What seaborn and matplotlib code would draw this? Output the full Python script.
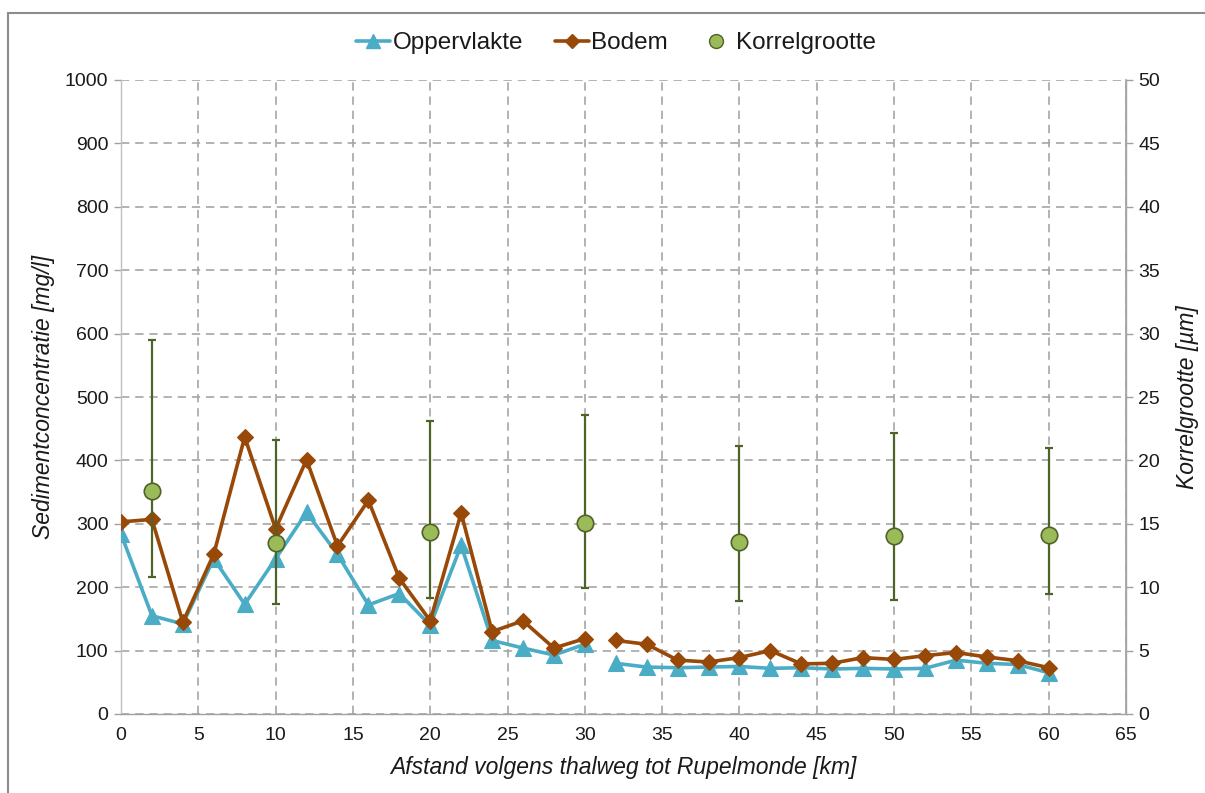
import numpy as np
import pandas as pd
import matplotlib
matplotlib.use("Agg")
import matplotlib.pyplot as plt
from matplotlib.lines import Line2D
from matplotlib.patches import Rectangle
import seaborn as sns

# ---- data ----
km = [0, 2, 4, 6, 8, 10, 12, 14, 16, 18, 20, 22, 24, 26, 28, 30,
      32, 34, 36, 38, 40, 42, 44, 46, 48, 50, 52, 54, 56, 58, 60]
oppervlakte = [284, 155, 142, 245, 173, 245, 318, 252, 172, 190, 140, 266, 116, 104, 93, 110,
               80, 74, 73, 74, 75, 72, 73, 71, 72, 71, 72, 85, 80, 78, 65]
bodem = [303, 307, 145, 252, 437, 292, 401, 265, 337, 214, 147, 317, 130, 147, 104, 119,
         116, 110, 85, 82, 89, 100, 79, 80, 89, 86, 92, 97, 90, 84, 73]
segment = [1] * 16 + [2] * 15

korrel_km = [2, 10, 20, 30, 40, 50, 60]
korrel = [17.6, 13.5, 14.35, 15.1, 13.6, 14.0, 14.1]
korrel_max = [29.5, 21.6, 23.1, 23.6, 21.1, 22.2, 21.0]
korrel_min = [10.8, 8.7, 9.15, 9.9, 8.9, 9.0, 9.45]

xticks = list(range(0, 66, 5))
yticks_left = list(range(0, 1001, 100))
yticks_right = list(range(0, 51, 5))

# ---- style ----
sns.set_theme(style="white")
plt.rcParams["font.family"] = ["Liberation Sans", "DejaVu Sans"]

c_opp = "#4BACC6"
c_bod = "#984807"
c_kor = "#9BBB59"
c_kor_edge = "#4F6228"
grid_c = "#A6A6A6"
txt_c = "#1a1a1a"

df = pd.DataFrame({
    "km": km * 2,
    "value": oppervlakte + bodem,
    "series": ["Oppervlakte"] * len(km) + ["Bodem"] * len(km),
    "segment": segment * 2,
})
dk = pd.DataFrame({"km": korrel_km, "korrel": korrel})

fig = plt.figure(figsize=(12.05, 7.93), dpi=100)
ax = fig.add_axes([121 / 1205, 1 - 714 / 793, (1126 - 121) / 1205, (714 - 80) / 793])

sns.lineplot(data=df, x="km", y="value", hue="series", style="series",
             units="segment", estimator=None,
             palette={"Oppervlakte": c_opp, "Bodem": c_bod},
             markers={"Oppervlakte": "^", "Bodem": "D"}, dashes=False,
             markersize=10, linewidth=2.6,
             legend=False, ax=ax, zorder=3)
for ln in ax.lines:
    col = ln.get_color()
    ln.set_markeredgecolor(col)
    ln.set_markerfacecolor(col)
    ln.set_markeredgewidth(0.8)
    if ln.get_marker() == "^":
        ln.set_markersize(11)
    else:
        ln.set_markersize(8)

ax.set_xlim(0, 65)
ax.set_ylim(0, 1000)
ax.set_xticks(xticks)
ax.set_yticks(yticks_left)
ax.grid(True, color=grid_c, linestyle=(0, (5, 3.5)), linewidth=1.2)
ax.set_axisbelow(True)
ax.spines["top"].set_visible(False)
ax.spines["left"].set_color("#BFBFBF")
ax.spines["bottom"].set_color("#A0A0A0")
ax.spines["right"].set_color("#A6A6A6")
for s in ["left", "bottom", "right"]:
    ax.spines[s].set_linewidth(1.0)
ax.tick_params(axis="both", which="major", direction="out", length=5, width=1,
               color="#A0A0A0", labelsize=14, labelcolor=txt_c, pad=4)
ax.set_xlabel("Afstand volgens thalweg tot Rupelmonde [km]", fontsize=16.5, style="italic",
              color=txt_c, labelpad=9)
ax.set_ylabel("Sedimentconcentratie [mg/l]", fontsize=16.5, style="italic",
              color=txt_c, labelpad=7)

ax2 = ax.twinx()
yerr = np.array([np.array(korrel) - np.array(korrel_min), np.array(korrel_max) - np.array(korrel)])
ax2.errorbar(korrel_km, korrel, yerr=yerr, fmt="none", ecolor=c_kor_edge,
             elinewidth=1.6, capsize=3, capthick=1.6, zorder=2)
sns.scatterplot(data=dk, x="km", y="korrel", color=c_kor, edgecolor=c_kor_edge,
                linewidth=1.2, s=140, ax=ax2, zorder=4, legend=False)
ax2.set_ylim(0, 50)
ax2.set_yticks(yticks_right)
ax2.set_xlim(0, 65)
for s in ["top", "left", "bottom"]:
    ax2.spines[s].set_visible(False)
ax2.spines["right"].set_color("#A6A6A6")
ax2.tick_params(axis="y", direction="out", length=5, width=1, color="#A0A0A0",
                labelsize=14, labelcolor=txt_c, pad=4)
ax2.set_ylabel("Korrelgrootte [µm]", fontsize=16.5, style="italic", color=txt_c, labelpad=11)
ax2.set_xlabel("")

handles = [
    Line2D([], [], color=c_opp, marker="^", markersize=10, linewidth=2.6),
    Line2D([], [], color=c_bod, marker="D", markersize=7, linewidth=2.6),
    Line2D([], [], color="none", marker="o", markersize=10, markerfacecolor=c_kor,
           markeredgecolor=c_kor_edge, linewidth=0),
]
fig.legend(handles, ["Oppervlakte", "Bodem", "Korrelgrootte"], loc="center",
           bbox_to_anchor=(616 / 1205, 1 - 43 / 793), ncol=3, frameon=False,
           fontsize=17.5, handlelength=1.4, handletextpad=0.1, columnspacing=1.3,
           labelcolor=txt_c)

fig.patches.append(Rectangle((8 / 1205, -0.01), 1.02, 1 - 13 / 793 + 0.01,
                             transform=fig.transFigure, fill=False,
                             edgecolor="#8C8C8C", linewidth=1.5, zorder=0))

fig.savefig("out.png", dpi=100, facecolor="white")
